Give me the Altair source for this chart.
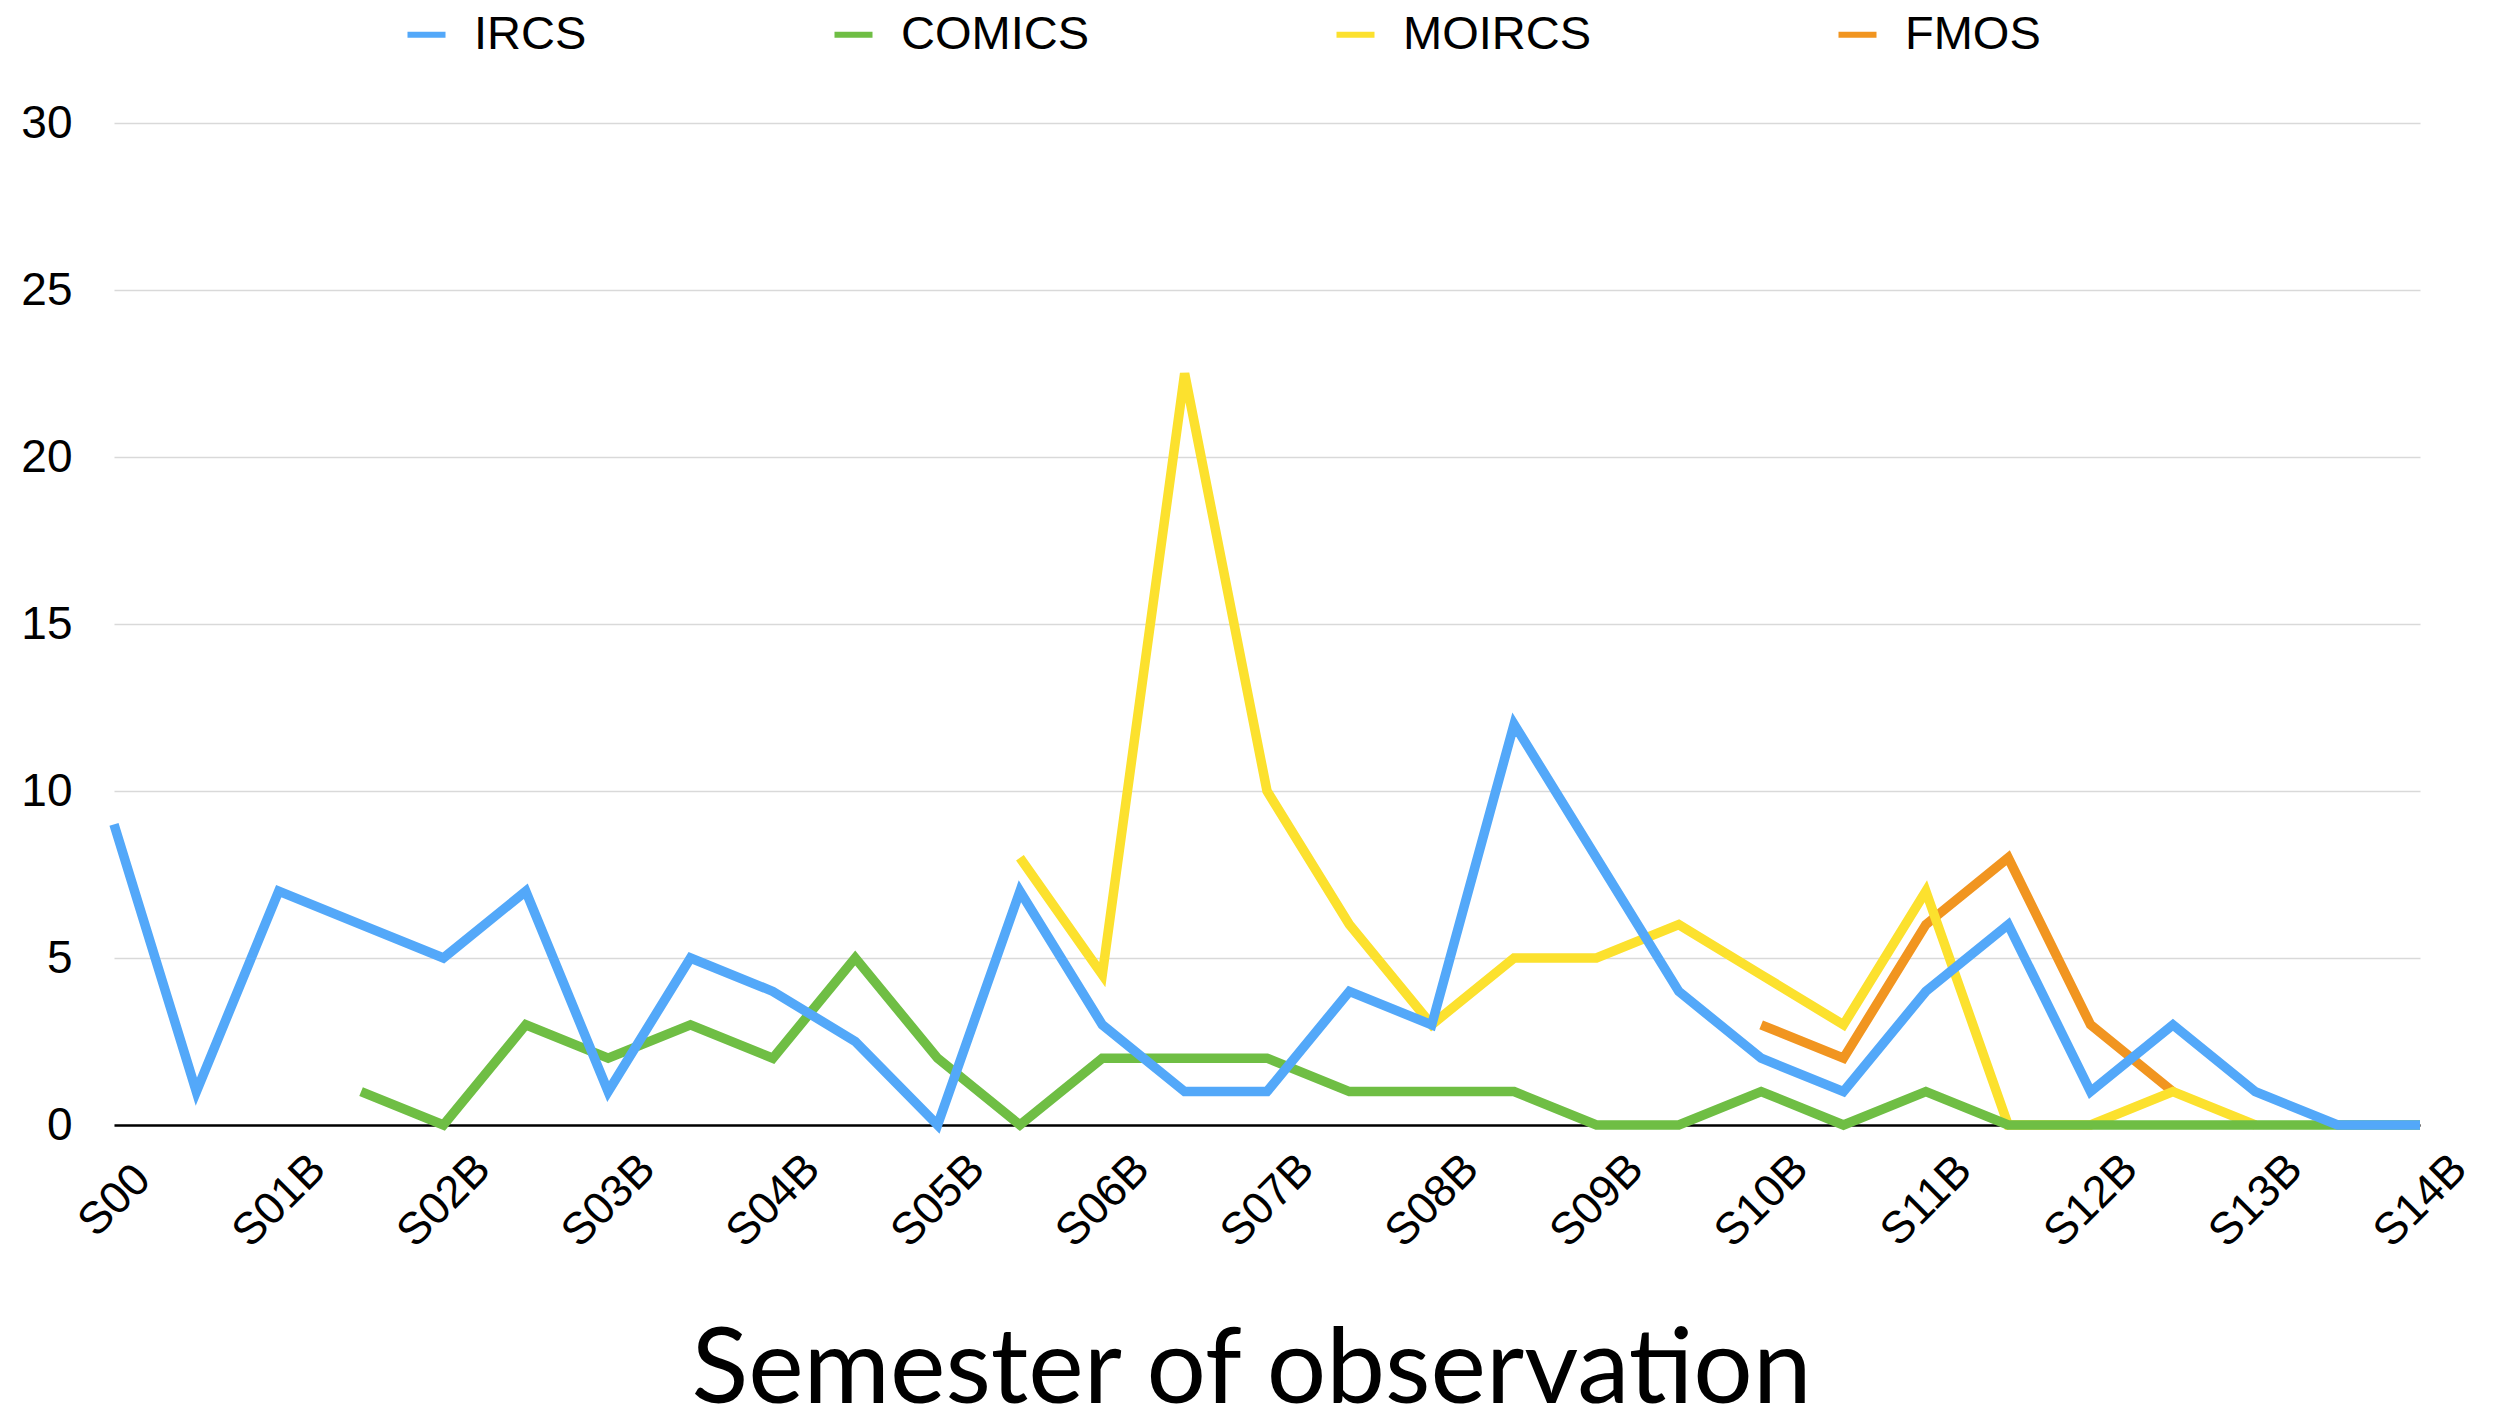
import altair as alt
import pandas as pd

semesters = ["S00", "S01A", "S01B", "S02A", "S02B", "S03A", "S03B", "S04A", "S04B",
             "S05A", "S05B", "S06A", "S06B", "S07A", "S07B", "S08A", "S08B",
             "S09A", "S09B", "S10A", "S10B", "S11A", "S11B", "S12A", "S12B",
             "S13A", "S13B", "S14A", "S14B"]
tick_labels = ["S00", "S01B", "S02B", "S03B", "S04B", "S05B", "S06B", "S07B",
               "S08B", "S09B", "S10B", "S11B", "S12B", "S13B", "S14B"]

ircs = [9, 1, 7, 6, 5, 7, 1, 5, 4, 2.5, 0, 7, 3, 1, 1, 4, 3, 12, 8, 4, 2, 1, 4, 6, 1, 3, 1, 0, 0]
comics = [None, None, None, 1, 0, 3, 2, 3, 2, 5, 2, 0, 2, 2, 2, 1, 1, 1, 0, 0, 1, 0, 1, 0, 0, 0, 0, 0, 0]
moircs = [None] * 11 + [8, 4.5, 22.5, 10, 6, 3, 5, 5, 6, 4.5, 3, 7, 0, 0, 1, 0] + [None, None]
fmos = [None] * 20 + [3, 2, 6, 8, 3, 1] + [None] * 3

series_names = ["IRCS", "COMICS", "MOIRCS", "FMOS"]
series_values = [ircs, comics, moircs, fmos]
colors = ["#53A8F9", "#6FBE44", "#FCE12E", "#F19520"]
y_ticks = [0, 5, 10, 15, 20, 25, 30]

rows = []
for name, vals in zip(series_names, series_values):
    for sem, v in zip(semesters, vals):
        if v is not None:
            rows.append({"semester": sem, "value": v, "series": name})
df = pd.DataFrame(rows)

x_enc = alt.X(
    "semester:N",
    scale=alt.Scale(type="point", domain=semesters, padding=0),
    axis=alt.Axis(
        values=tick_labels, labelAngle=-45, labelAlign="center", labelBaseline="middle",
        labelPadding=75, ticks=False, tickSize=0, grid=False,
        domainColor="#000000", domainWidth=2.5,
        labelFont="Liberation Sans", labelFontSize=45, labelColor="#000000",
        labelOverlap=False,
        title="Semester of observation", titleFont="Lato", titleFontSize=105,
        titleFontWeight="normal", titleColor="#000000", titleX=1137, titleY=277,
        titleAlign="center", titleBaseline="alphabetic",
    ),
)
y_enc = alt.Y(
    "value:Q",
    scale=alt.Scale(domain=[0, 30], nice=False),
    axis=alt.Axis(
        values=y_ticks, title=None, domain=False, ticks=False, labelPadding=42,
        labelFont="Liberation Sans", labelFontSize=46, labelColor="#000000",
        gridColor="#d9d9d9", gridWidth=1.5,
    ),
)
color_enc = alt.Color(
    "series:N",
    scale=alt.Scale(domain=series_names, range=colors),
    legend=alt.Legend(
        title=None, orient="none", legendX=289, legendY=-112, direction="horizontal",
        symbolType="stroke", symbolSize=1444, symbolStrokeWidth=6,
        labelFont="Liberation Sans", labelFontSize=47, labelColor="#000000",
        labelOffset=24, columnPadding=235, labelLimit=500,
    ),
)

base = alt.Chart(df)
layers = [
    base.transform_filter(alt.datum.series == n)
    .mark_line(strokeWidth=9.5, strokeJoin="miter", strokeCap="butt")
    .encode(x=x_enc, y=y_enc, color=color_enc)
    for n in ["FMOS", "MOIRCS", "COMICS", "IRCS"]
]

chart = (
    alt.layer(*layers)
    .properties(
        width=2306, height=1002,
        padding={"left": 106, "top": 115, "right": 73, "bottom": 280},
        autosize=alt.AutoSizeParams(type="none"),
        background="#ffffff",
    )
    .configure_view(stroke="transparent")
)

chart.save("out.html", embed_options={"renderer": "svg", "actions": False})
